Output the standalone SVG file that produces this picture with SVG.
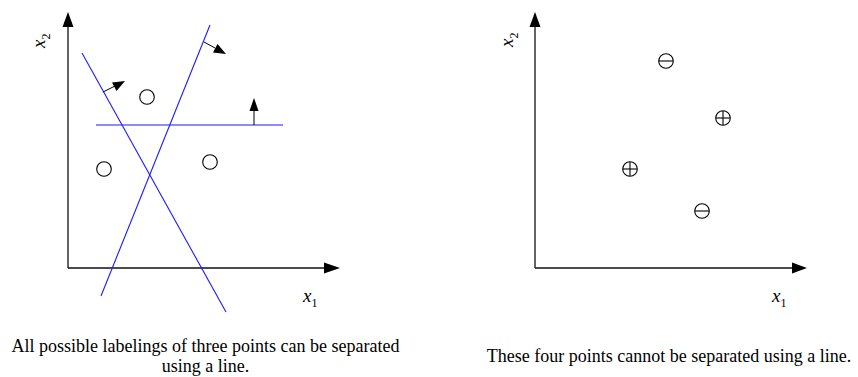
<svg xmlns="http://www.w3.org/2000/svg" width="858" height="377" viewBox="0 0 858 377">
<style>
.ax{stroke:#111;stroke-width:1.3;fill:none}
.bl{stroke:#1a1aff;stroke-width:1.1;fill:none}
.ar{stroke:#000;stroke-width:1;fill:none}
.pt{stroke:#000;stroke-width:1.1;fill:none}
.hd{fill:#000;stroke:none}
.lab{font-family:"Liberation Serif",serif;font-size:19px;fill:#000}
.sub{font-size:12px}
.cap{font-family:"Liberation Serif",serif;font-size:18px;fill:#000;text-anchor:middle}
</style>
<g id="left-axes">
<line class="ax" x1="68" y1="268" x2="68" y2="24"/>
<polygon class="hd" points="68,12 62.5,27 73.5,27"/>
<line class="ax" x1="68" y1="268" x2="327" y2="268"/>
<polygon class="hd" points="340,268 324,262.5 324,273.5"/>
<text class="lab" transform="translate(45,48) rotate(-90)"><tspan font-style="italic">x</tspan><tspan class="sub" dy="5">2</tspan></text>
<text class="lab" x="303" y="302"><tspan font-style="italic">x</tspan><tspan class="sub" dy="5">1</tspan></text>
</g>
<g id="left-lines">
<line class="bl" x1="82" y1="53" x2="226" y2="312"/>
<line class="bl" x1="210" y1="25" x2="101" y2="296"/>
<line class="bl" x1="96" y1="125" x2="283" y2="125"/>
</g>
<g id="normals">
<line class="ar" x1="103" y1="92" x2="115" y2="86"/>
<polygon class="hd" points="125,81 112,82.5 116.5,91"/>
<line class="ar" x1="204" y1="42" x2="215" y2="48"/>
<polygon class="hd" points="226,54 213,52.5 217.5,44"/>
<line class="ar" x1="254" y1="125" x2="254" y2="110"/>
<polygon class="hd" points="254,98 249.5,111 258.5,111"/>
</g>
<g id="left-points">
<circle class="pt" cx="147" cy="97" r="7.3"/>
<circle class="pt" cx="104" cy="169" r="7.3"/>
<circle class="pt" cx="210" cy="162" r="7.3"/>
</g>
<g id="right-axes">
<line class="ax" x1="535" y1="268" x2="535" y2="24"/>
<polygon class="hd" points="535,12 529.5,27 540.5,27"/>
<line class="ax" x1="535" y1="268" x2="795" y2="268"/>
<polygon class="hd" points="807,268 792,262.5 792,273.5"/>
<text class="lab" transform="translate(513,47) rotate(-90)"><tspan font-style="italic">x</tspan><tspan class="sub" dy="5">2</tspan></text>
<text class="lab" x="772" y="302"><tspan font-style="italic">x</tspan><tspan class="sub" dy="5">1</tspan></text>
</g>
<g id="right-points">
<g id="p-minus-1"><circle class="pt" cx="666" cy="61" r="7.3"/><line class="pt" x1="659" y1="61" x2="673" y2="61"/></g>
<g id="p-plus-1"><circle class="pt" cx="723" cy="118" r="7.3"/><line class="pt" x1="716" y1="118" x2="730" y2="118"/><line class="pt" x1="723" y1="111" x2="723" y2="125"/></g>
<g id="p-plus-2"><circle class="pt" cx="630" cy="169" r="7.3"/><line class="pt" x1="623" y1="169" x2="637" y2="169"/><line class="pt" x1="630" y1="162" x2="630" y2="176"/></g>
<g id="p-minus-2"><circle class="pt" cx="702" cy="211" r="7.3"/><line class="pt" x1="695" y1="211" x2="709" y2="211"/></g>
</g>
<g id="captions">
<text class="cap" x="205.5" y="352">All possible labelings of three points can be separated</text>
<text class="cap" x="205.5" y="372">using a line.</text>
<text class="cap" x="669" y="362">These four points cannot be separated using a line.</text>
</g>
</svg>
